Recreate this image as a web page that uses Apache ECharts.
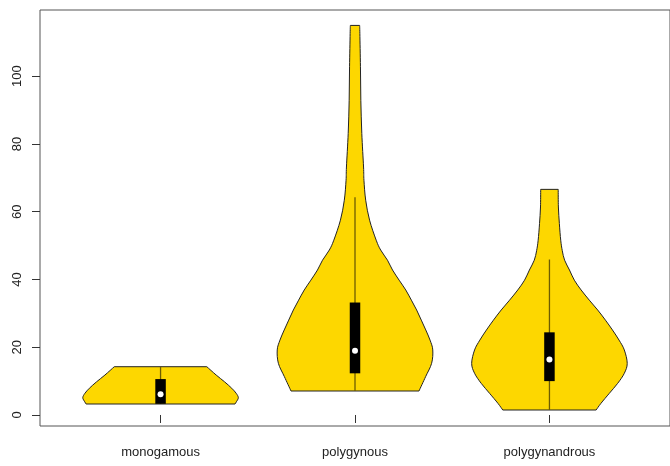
<!DOCTYPE html>
<html>
<head>
<meta charset="utf-8">
<title>violin</title>
<script src="https://cdn.jsdelivr.net/npm/echarts@6/dist/echarts.min.js"></script>
<style>
  html, body { margin: 0; padding: 0; background: #fff; }
  #chart { width: 670px; height: 466px; }
</style>
</head>
<body>
<div id="chart"></div>
<script>
// groups on the x axis
const categories = ['monogamous', 'polygynous', 'polygynandrous'];
const yTicks = [0, 20, 40, 60, 80, 100];

// density outline: value, half width (x units)
const monoY = [14.25, 11.8, 9.8, 7.9, 6.4, 5.1, 3.9, 3.24];
const monoW = [0.238, 0.286, 0.329, 0.366, 0.389, 0.4, 0.39, 0.383];

const polyY = [115, 112.6, 102.8, 92.9, 83.1, 73.2, 69.3, 63.4, 57.5, 51.6, 48.7, 45.7, 42.8, 39.8, 36.9, 33.9, 31.0, 28.0, 25.1, 22.1, 19.2, 15.25, 11.3, 7.08];
const polyW = [0.024, 0.025, 0.028, 0.030, 0.035, 0.044, 0.046, 0.055, 0.075, 0.109, 0.132, 0.167, 0.193, 0.227, 0.261, 0.290, 0.317, 0.341, 0.364, 0.386, 0.4, 0.394, 0.363, 0.329];

const andrY = [66.6, 61.4, 56.5, 51.6, 48.5, 45.7, 42.8, 39.8, 36.9, 33.9, 31.0, 28.0, 25.1, 22.1, 19.2, 15.25, 12.3, 9.35, 6.4, 3.45, 1.47];
const andrW = [0.045, 0.046, 0.051, 0.058, 0.066, 0.078, 0.103, 0.128, 0.163, 0.205, 0.248, 0.288, 0.324, 0.358, 0.385, 0.4, 0.385, 0.351, 0.308, 0.265, 0.240];

// box stats
const whiskLow = [3.24, 7.08, 1.47];
const q1 = [3.3, 12.3, 10.0];
const median = [6.1, 19.0, 16.4];
const q3 = [10.6, 33.2, 24.4];
const whiskHigh = [14.25, 64.3, 45.9];

const profiles = [[monoY, monoW], [polyY, polyW], [andrY, andrW]];

const chart = echarts.init(document.getElementById('chart'));

// smooth curve through pixel points (catmull-rom as beziers)
function curveThrough(p) {
  let d = '';
  for (let k = 0; k < p.length - 1; k++) {
    const a = p[Math.max(k - 1, 0)], b = p[k], c = p[k + 1], e = p[Math.min(k + 2, p.length - 1)];
    const c1 = [b[0] + (c[0] - a[0]) / 6, b[1] + (c[1] - a[1]) / 6];
    const c2 = [c[0] - (e[0] - b[0]) / 6, c[1] - (e[1] - b[1]) / 6];
    d += ' C' + c1[0] + ' ' + c1[1] + ' ' + c2[0] + ' ' + c2[1] + ' ' + c[0] + ' ' + c[1];
  }
  return d;
}

function renderViolin(params, api) {
  const i = api.value(0);
  const x = i + 1;
  const ys = profiles[i][0], ws = profiles[i][1];
  const left = [], right = [];
  for (let k = 0; k < ys.length; k++) left.push(api.coord([x - ws[k], ys[k]]));
  for (let k = ys.length - 1; k >= 0; k--) right.push(api.coord([x + ws[k], ys[k]]));
  const d = 'M' + left[0][0] + ' ' + left[0][1] + curveThrough(left) +
    ' L' + right[0][0] + ' ' + right[0][1] + curveThrough(right) + ' Z';

  const lo = api.coord([x, whiskLow[i]]);
  const hi = api.coord([x, whiskHigh[i]]);
  const b1 = api.coord([x - 0.027, q3[i]]);
  const b2 = api.coord([x + 0.027, q1[i]]);
  const m = api.coord([x, median[i]]);

  return {
    type: 'group',
    children: [
      { type: 'path', shape: { pathData: d },
        style: { fill: '#FDD700', stroke: '#222', lineWidth: 1 } },
      { type: 'line', shape: { x1: lo[0], y1: lo[1], x2: hi[0], y2: hi[1] },
        style: { stroke: '#6e5c00', lineWidth: 1.3 } },
      { type: 'rect', shape: { x: b1[0], y: b1[1], width: b2[0] - b1[0], height: b2[1] - b1[1] },
        style: { fill: '#000' } },
      { type: 'circle', shape: { cx: m[0], cy: m[1], r: 3 },
        style: { fill: '#fff' } }
    ]
  };
}

chart.setOption({
  animation: false,
  grid: {
    left: 40, right: 0, top: 10, bottom: 40,
    show: true, borderColor: '#555', borderWidth: 1
  },
  xAxis: {
    type: 'value',
    min: 0.38, max: 3.62,
    splitLine: { show: false },
    axisLine: { show: false },
    axisTick: { show: true, length: 8, customValues: [1, 2, 3], lineStyle: { color: '#333' } },
    axisLabel: {
      customValues: [1, 2, 3],
      formatter: v => categories[Math.round(v) - 1],
      fontFamily: 'Liberation Sans', fontSize: 13, color: '#222', margin: 20
    }
  },
  yAxis: {
    type: 'value',
    min: -3.25, max: 119.55,
    splitLine: { show: false },
    axisLine: { show: false },
    axisTick: { show: true, length: 8, customValues: yTicks, lineStyle: { color: '#333' } },
    axisLabel: {
      customValues: yTicks,
      rotate: 90,
      fontFamily: 'Liberation Sans', fontSize: 13, color: '#222', margin: 16
    }
  },
  series: [{
    type: 'custom',
    renderItem: renderViolin,
    data: categories.map((c, i) => [i]),
    encode: { x: 0 }
  }]
});
</script>
</body>
</html>
